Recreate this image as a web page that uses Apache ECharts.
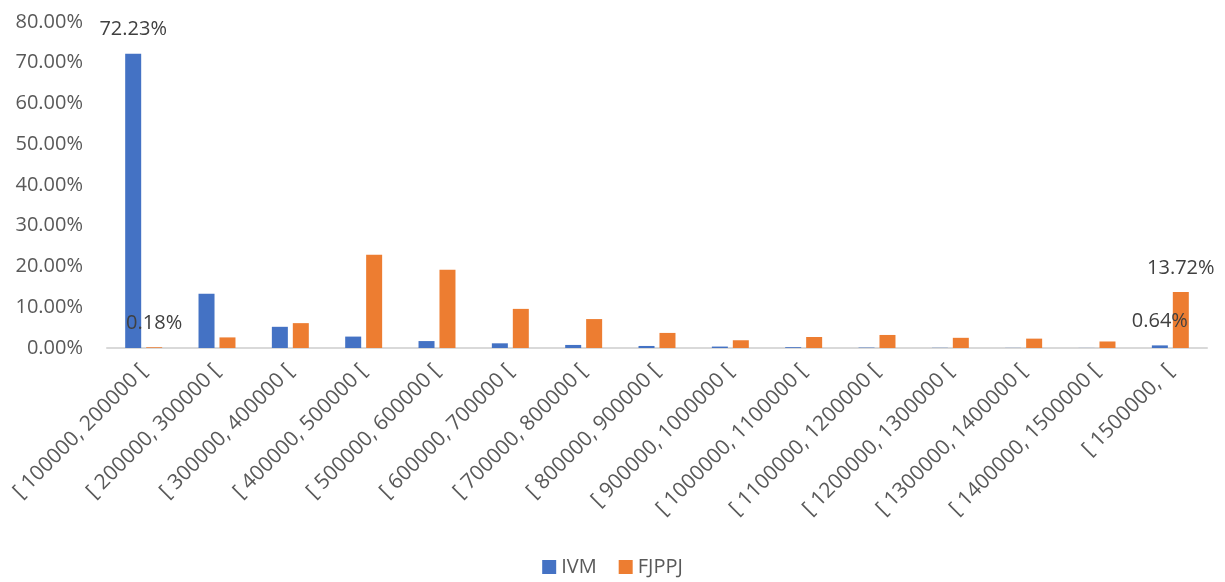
<!DOCTYPE html>
<html>
<head>
<meta charset="utf-8">
<script src="https://cdn.jsdelivr.net/npm/echarts@6/dist/echarts.min.js"></script>
<style>
  html, body { margin: 0; padding: 0; background: #fff; }
  #chart { width: 1225px; height: 582px; }
</style>
</head>
<body>
<div id="chart"></div>
<script>
var fontsty = 'Open Sans';

var categories = [
  '[ 100000, 200000 [', '[ 200000, 300000 [', '[ 300000, 400000 [',
  '[ 400000, 500000 [', '[ 500000, 600000 [', '[ 600000, 700000 [',
  '[ 700000, 800000 [', '[ 800000, 900000 [', '[ 900000, 1000000 [',
  '[ 1000000, 1100000 [', '[ 1100000, 1200000 [', '[ 1200000, 1300000 [',
  '[ 1300000, 1400000 [', '[ 1400000, 1500000 [', '[ 1500000,  ['
];
var ivm = [72.23, 13.3, 5.2, 2.8, 1.7, 1.15, 0.75, 0.5, 0.35, 0.2, 0.1, 0.05, 0.03, 0.02, 0.64];
var fjppj = [0.18, 2.6, 6.1, 22.9, 19.2, 9.6, 7.1, 3.7, 1.9, 2.7, 3.2, 2.5, 2.3, 1.6, 13.72];
var yTicks = [0, 10, 20, 30, 40, 50, 60, 70, 80];

// only a few bars carry a label in the original
var ivmLabelAt = [0, 14];
var fjppjLabelAt = [0, 14];

function withLabels(values, idx) {
  return values.map(function (v, i) {
    if (idx.indexOf(i) >= 0) {
      return { value: v, label: { show: true } };
    }
    return v;
  });
}

var labelStyle = {
  show: false,
  position: 'top',
  distance: 14,
  color: '#404040',
  fontSize: 20,
  fontFamily: fontsty,
  formatter: function (p) { return p.value.toFixed(2) + '%'; }
};

var myChart = echarts.init(document.getElementById('chart'));
var option = {
  animation: false,
  grid: { left: 107, right: 18, top: 22, bottom: 234 },
  legend: {
    bottom: 0,
    left: 'center',
    itemWidth: 14,
    itemHeight: 14,
    itemGap: 22,
    icon: 'rect',
    textStyle: { fontSize: 20, color: '#595959', fontFamily: fontsty },
    data: ['IVM', 'FJPPJ']
  },
  xAxis: {
    type: 'category',
    data: categories,
    axisLine: { lineStyle: { color: '#d9d9d9', width: 2 } },
    axisTick: { show: false },
    axisLabel: {
      interval: 0,
      rotate: 45,
      margin: 20,
      color: '#595959',
      fontSize: 21,
      fontFamily: fontsty
    }
  },
  yAxis: {
    type: 'value',
    min: yTicks[0],
    max: yTicks[yTicks.length - 1],
    interval: 10,
    splitLine: { show: false },
    axisLine: { show: false },
    axisTick: { show: false },
    axisLabel: {
      margin: 24,
      color: '#595959',
      fontSize: 20,
      fontFamily: fontsty,
      formatter: function (v) { return v.toFixed(2) + '%'; }
    }
  },
  series: [
    {
      name: 'IVM',
      type: 'bar',
      barWidth: 16,
      barGap: '31%',
      itemStyle: { color: '#4472C4' },
      label: labelStyle,
      data: withLabels(ivm, ivmLabelAt)
    },
    {
      name: 'FJPPJ',
      type: 'bar',
      barWidth: 16,
      itemStyle: { color: '#ED7D31' },
      label: labelStyle,
      data: withLabels(fjppj, fjppjLabelAt)
    }
  ]
};
myChart.setOption(option);
</script>
</body>
</html>
